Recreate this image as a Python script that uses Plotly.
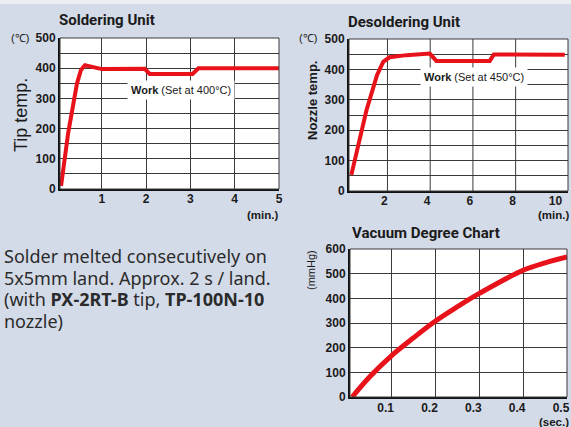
import plotly.graph_objects as go

W, H = 571, 427

# ---- data ----
sold_x = [0.08, 0.24, 0.44, 0.53, 0.62, 0.80, 1.0, 1.97, 2.08, 3.05, 3.18, 5.0]
sold_y = [10, 185, 350, 394, 410, 404, 397, 398, 381, 381, 400, 400]

desold_x = [0.31, 1.02, 1.51, 1.8, 2.1, 2.9, 3.98, 4.29, 6.79, 6.98, 10.3]
desold_y = [53, 266, 381, 425, 440, 447, 452, 428, 428, 449, 448]

vac_x = [0.01, 0.05, 0.1, 0.15, 0.2, 0.25, 0.3, 0.4, 0.45, 0.5]
vac_y = [0, 82, 168, 240, 308, 366, 420, 514, 544, 568]

sold_xticks = [1, 2, 3, 4, 5]
desold_xticks = [2, 4, 6, 8, 10]
desold_xgrid = [2, 4, 6, 8]
vac_xticks = [0.1, 0.2, 0.3, 0.4, 0.5]
temp_yticks = [0, 100, 200, 300, 400, 500]
temp_minor = [50, 150, 250, 350, 450]
vac_yticks = [0, 100, 200, 300, 400, 500, 600]

RED = "#e8121b"
GRID = "#3a3a3a"
BG = "#d4dbe8"
TXT = "#1a1a1a"
FONT = "Liberation Sans, Arial, sans-serif"
TITLEF = "Roboto, Liberation Sans, sans-serif"


def px_x(a, b):
    return [a / W, b / W]


def px_y(top, bottom):
    return [1 - bottom / H, 1 - top / H]


fig = go.Figure()

fig.add_trace(go.Scatter(x=sold_x, y=sold_y, mode="lines",
                         line=dict(color=RED, width=4), xaxis="x", yaxis="y",
                         showlegend=False, hoverinfo="skip"))
fig.add_trace(go.Scatter(x=desold_x, y=desold_y, mode="lines",
                         line=dict(color=RED, width=4), xaxis="x2", yaxis="y2",
                         showlegend=False, hoverinfo="skip"))
fig.add_trace(go.Scatter(x=vac_x, y=vac_y, mode="lines",
                         line=dict(color=RED, width=5, shape="spline"),
                         xaxis="x3", yaxis="y3",
                         showlegend=False, hoverinfo="skip"))

tickfont = dict(family=FONT, size=12, color=TXT, weight="bold")

common_axis = dict(showline=True, linecolor="#111", linewidth=2, ticks="",
                   gridcolor=GRID, gridwidth=1, zeroline=False, fixedrange=True,
                   automargin=False, tickfont=tickfont)

fig.update_layout(
    width=W, height=H, autosize=False,
    margin=dict(l=0, r=0, t=0, b=0, pad=0, autoexpand=False),
    paper_bgcolor=BG, plot_bgcolor="white",
    xaxis=dict(domain=px_x(60, 279), range=[0.056, 5.0005], tickvals=sold_xticks,
               showgrid=True, anchor="y", ticklabelstandoff=-2, **common_axis),
    yaxis=dict(domain=px_y(38, 189), range=[0, 500.05], tickvals=temp_yticks,
               minor=dict(tickvals=temp_minor, showgrid=True,
                          gridcolor=GRID, gridwidth=1, ticks=""),
               showgrid=True, anchor="x", **common_axis),
    xaxis2=dict(domain=px_x(349, 568), range=[0.2, 10.45], tickvals=desold_xticks,
                showgrid=False, anchor="y2", ticklabelshift=-3,
                ticklabelstandoff=-2, **common_axis),
    yaxis2=dict(domain=px_y(39, 191), range=[0, 500.05], tickvals=temp_yticks,
                minor=dict(tickvals=temp_minor, showgrid=True,
                           gridcolor=GRID, gridwidth=1, ticks=""),
                showgrid=True, anchor="x2", **common_axis),
    xaxis3=dict(domain=px_x(350, 567), range=[0.005, 0.50005], tickvals=vac_xticks,
                showgrid=True, anchor="y3", ticklabelshift=-6,
                ticklabelstandoff=-1, **common_axis),
    yaxis3=dict(domain=px_y(249, 397), range=[0, 600.05], tickvals=vac_yticks,
                showgrid=True, anchor="x3", **common_axis),
)

shapes = []
# top light band
shapes.append(dict(type="rect", xref="paper", yref="paper", x0=0, x1=1,
                   y0=1 - 4 / H, y1=1, fillcolor="#eceef2", line=dict(width=0),
                   layer="below"))
# desoldering vertical grid lines (none at 10)
for gx in desold_xgrid:
    shapes.append(dict(type="line", xref="x2", yref="paper", x0=gx, x1=gx,
                       y0=1 - 191 / H, y1=1 - 39 / H,
                       line=dict(color=GRID, width=1), layer="below"))
# plot borders (top / right)
for (l, r, t, b) in [(60, 279, 38, 189), (349, 568, 39, 191), (350, 567, 249, 397)]:
    shapes.append(dict(type="rect", xref="paper", yref="paper",
                       x0=l / W, x1=r / W, y0=1 - b / H, y1=1 - t / H,
                       line=dict(color=GRID, width=1), layer="above"))
fig.update_layout(shapes=shapes)

ann = []


def txt(text, x, y, size, xanchor="left", yanchor="middle", family=FONT,
        color=TXT, weight="normal", textangle=0, **kw):
    ann.append(dict(text=text, x=x / W, y=1 - y / H, xref="paper", yref="paper",
                    xanchor=xanchor, yanchor=yanchor, showarrow=False,
                    textangle=textangle,
                    font=dict(family=family, size=size, color=color, weight=weight),
                    **kw))


# titles
txt("Soldering Unit", 57, 20, 15, family=TITLEF, weight="bold")
txt("Desoldering Unit", 346, 22, 15, family=TITLEF, weight="bold")
txt("Vacuum Degree Chart", 350, 233, 15, family=TITLEF, weight="bold")

# unit labels
txt("(℃)", 31, 38, 11, xanchor="right")
txt("(℃)", 319, 38, 11, xanchor="right")
txt("(min.)", 280, 215, 11.5, xanchor="right", weight="bold")
txt("(min.)", 571, 215, 11.5, xanchor="right", weight="bold")
txt("(sec.)", 571, 422, 11.5, xanchor="right", weight="bold")

# axis titles
txt("Tip temp.", 21, 115, 18, xanchor="center", textangle=-90)
txt("Nozzle temp.", 312, 100, 13, xanchor="center", textangle=-90, weight="bold")
txt("(mmHg)", 311, 270, 11, xanchor="center", textangle=-90)

# work boxes (data coords)
ann.append(dict(text="<b>Work</b> (Set at 400°C)", x=2.79, y=329, xref="x", yref="y",
                showarrow=False, bgcolor="white", borderpad=3,
                font=dict(family=FONT, size=11, color=TXT)))
ann.append(dict(text="<b>Work</b> (Set at 450°C)", x=6.03, y=375, xref="x2", yref="y2",
                showarrow=False, bgcolor="white", borderpad=3,
                font=dict(family=FONT, size=11, color=TXT)))

# description
BODY = "Noto Sans, Open Sans, sans-serif"
lines = ["Solder melted consecutively on",
         "5x5mm land. Approx. 2 s / land.",
         "(with <b>PX-2RT-B</b> tip, <b>TP-100N-10</b>",
         "nozzle)"]
for i, ln in enumerate(lines):
    txt(ln, 2, 256 + i * 21.7, 18, family=BODY, color="#2b2b2b")

fig.update_layout(annotations=ann)

fig.write_html("out.html", config={"displayModeBar": False},
               post_script="document.body.style.margin='0';")
